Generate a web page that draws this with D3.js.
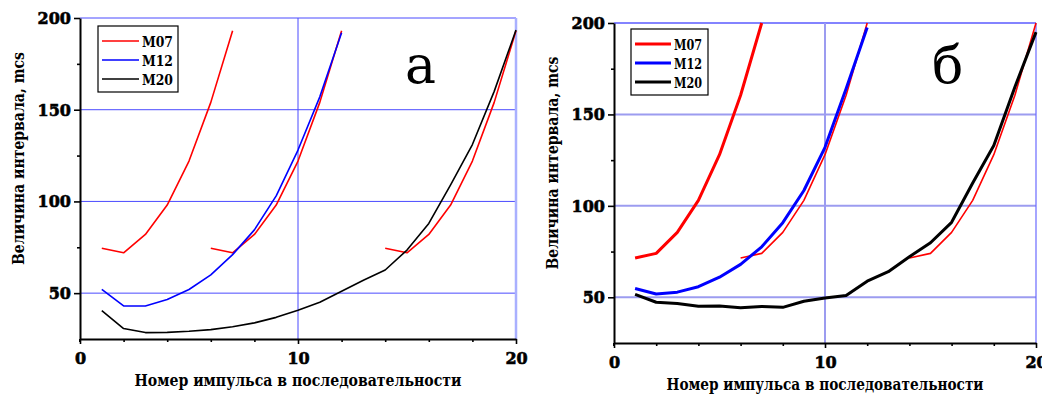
<!DOCTYPE html>
<html><head><meta charset="utf-8">
<script src="https://cdn.jsdelivr.net/npm/d3@7"></script>
<style>
html,body{margin:0;padding:0;background:#fff;}
svg{display:block;}
svg text{font-family:"DejaVu Serif","Liberation Serif","Times New Roman",serif !important;}
</style></head>
<body>
<svg id="chart" width="1042" height="394"></svg>
<script>
// ---- data ----
const seriesNames = ["M07", "M12", "M20"];
const seriesColors = ["#ff0000", "#0000ff", "#000000"];
const xTicks = [0, 10, 20];
const yTicks = [50, 100, 150, 200];
const xMinorTicks = [2, 4, 6, 8, 12, 14, 16, 18];
const yMinorTicks = [75, 125, 175];
const panelLetters = ["а", "б"];
const xTitle = "Номер импульса в последовательности";
const yTitle = "Величина интервала, mcs";

// panel а
const a_M07 = [74.5, 72, 82, 98, 122, 154, 193];
const a_M07_starts = [1, 6, 14];
const a_M12 = [52, 43, 43, 46.5, 52, 60, 71, 84.5, 103, 128, 157, 192];
const a_M20 = [40.5, 30.7, 28.5, 28.6, 29.2, 30.1, 31.7, 33.8, 36.8, 40.7, 45, 51, 57, 62.6, 73.5, 88, 109, 131, 160, 193.4];

// panel б
const b_M07 = [71.5, 74, 85.5, 103, 128, 160.5, 200];
const b_M07_starts = [1, 6, 14];
const b_M12 = [54.8, 51.8, 52.8, 55.8, 61, 68, 77.6, 90.8, 108.4, 132, 164, 197.5];
const b_M20 = [51.6, 47.3, 46.6, 45.1, 45.2, 44.3, 45, 44.5, 47.8, 49.6, 51, 58.8, 64, 72.2, 79.8, 91, 112.5, 133, 165, 195];

// ---- drawing ----
const svg = d3.select("#chart");

function drawPanel(p) {
  const x = d3.scaleLinear().domain([0, 20]).range([p.left, p.right]);
  const y = d3.scaleLinear().domain([25, 200]).range([p.bottom, p.top]);
  const g = svg.append("g");

  // grid
  const grid = g.append("g");
  yTicks.forEach(v => {
    const last = v === 200;
    grid.append("line").attr("x1", x(0)).attr("x2", x(20)).attr("y1", y(v)).attr("y2", y(v))
      .attr("stroke", last ? p.gridTopColor : p.gridColor).attr("stroke-width", last ? p.gridTopW : p.gridW);
  });
  [10, 20].forEach(v => {
    const last = v === 20;
    grid.append("line").attr("x1", x(v)).attr("x2", x(v)).attr("y1", y(200)).attr("y2", y(25))
      .attr("stroke", last ? p.gridEdgeColor : p.gridColor).attr("stroke-width", last ? p.gridEdgeW : p.gridW);
  });

  // series
  const line = d3.line().x(d => x(d[0])).y(d => y(d[1]));
  p.m07starts.forEach((s, i) => {
    const pts = p.m07.map((v, k) => [s + k, v]);
    g.append("path").attr("d", line(pts)).attr("fill", "none")
      .attr("stroke", seriesColors[0]).attr("stroke-width", i === 0 ? p.lw : p.lwThin)
      .attr("stroke-linejoin", "round");
  });
  [p.m12, p.m20].forEach((arr, i) => {
    const pts = arr.map((v, k) => [k + 1, v]);
    g.append("path").attr("d", line(pts)).attr("fill", "none")
      .attr("stroke", seriesColors[i + 1]).attr("stroke-width", p.lw)
      .attr("stroke-linejoin", "round");
  });

  // axes
  const xAx = g.append("g").attr("transform", `translate(0,${p.bottom})`)
    .call(d3.axisBottom(x).tickValues(xTicks).tickSize(5).tickSizeOuter(0).tickFormat(d3.format("d")));
  g.append("g").attr("transform", `translate(0,${p.bottom})`)
    .call(d3.axisBottom(x).tickValues(xMinorTicks).tickSize(3).tickSizeOuter(0).tickFormat(""))
    .select(".domain").remove();
  const yAx = g.append("g").attr("transform", `translate(${p.left},0)`)
    .call(d3.axisLeft(y).tickValues(yTicks).tickSize(6).tickSizeOuter(0).tickFormat(d3.format("d")));
  g.append("g").attr("transform", `translate(${p.left},0)`)
    .call(d3.axisLeft(y).tickValues(yMinorTicks).tickSize(3).tickSizeOuter(0).tickFormat(""))
    .select(".domain").remove();
  g.selectAll("g").attr("font-family", null);
  g.selectAll(".domain").attr("stroke", "#000").attr("stroke-width", 2);
  g.selectAll(".tick line").attr("stroke", "#000").attr("stroke-width", 1.6);
  xAx.selectAll(".tick text").style("font-size", "16px").style("font-weight", "bold")
    .attr("fill", "#000").attr("stroke", "#000").attr("stroke-width", 0.6)
    .attr("y", 14).attr("dy", "0.71em");
  yAx.selectAll(".tick text").style("font-size", "16px").style("font-weight", "bold")
    .attr("fill", "#000").attr("stroke", "#000").attr("stroke-width", 0.6)
    .attr("x", -9).attr("dy", "0.34em");
  g.append("line").attr("x1", p.left).attr("x2", p.left).attr("y1", p.bottom).attr("y2", p.bottom + 3)
    .attr("stroke", "#000").attr("stroke-width", 2);

  // titles
  g.append("text").attr("x", x(10)).attr("y", p.bottom + 47).attr("text-anchor", "middle")
    .style("font-size", "17px").style("font-weight", "bold").attr("textLength", p.xTitleLen)
    .attr("lengthAdjust", "spacingAndGlyphs").text(xTitle);
  g.append("text").attr("transform", `translate(${p.left - 56},${(p.top + p.bottom) / 2 - 20}) rotate(-90)`)
    .attr("text-anchor", "middle").style("font-size", "17px").style("font-weight", "bold")
    .attr("textLength", 213).attr("lengthAdjust", "spacingAndGlyphs").text(yTitle);

  // legend
  const L = p.legend;
  g.append("rect").attr("x", L.x).attr("y", L.y).attr("width", L.w).attr("height", L.h)
    .attr("fill", "#fff").attr("stroke", "#000").attr("stroke-width", 1.2);
  seriesNames.forEach((n, i) => {
    const cy = L.y + 15 + i * 19;
    g.append("line").attr("x1", L.x + 4).attr("x2", L.x + 4 + L.lineLen).attr("y1", cy).attr("y2", cy)
      .attr("stroke", seriesColors[i]).attr("stroke-width", p.lw);
    g.append("text").attr("x", L.x + L.lineLen + 7).attr("y", cy + 5.5).style("font-size", L.fs + "px")
      .style("font-weight", "bold").attr("textLength", L.tl).attr("lengthAdjust", "spacingAndGlyphs").text(n);
  });

  // panel letter
  g.append("text").attr("x", p.letterX).attr("y", 83).style("font-size", "52px").text(p.letter);
}

drawPanel({
  left: 80, right: 516, top: 18, bottom: 339,
  m07: a_M07, m07starts: a_M07_starts, m12: a_M12, m20: a_M20,
  lw: 1.6, lwThin: 1.6,
  gridColor: "#4b4bff", gridW: 1, gridTopColor: "#4b4bff", gridTopW: 1,
  gridEdgeColor: "#a9b0ff", gridEdgeW: 2.5,
  xTitleLen: 327,
  legend: {x: 98, y: 26, w: 80, h: 66, lineLen: 37, fs: 15, tl: 31},
  letter: panelLetters[0], letterX: 405
});
drawPanel({
  left: 614, right: 1036, top: 23, bottom: 343,
  m07: b_M07, m07starts: b_M07_starts, m12: b_M12, m20: b_M20,
  lw: 3, lwThin: 1.6,
  gridColor: "#9c9cf0", gridW: 2, gridTopColor: "#5a5aff", gridTopW: 1.5,
  gridEdgeColor: "#6a6aff", gridEdgeW: 1.2,
  xTitleLen: 317,
  legend: {x: 631, y: 29, w: 77, h: 66, lineLen: 36, fs: 15, tl: 28},
  letter: panelLetters[1], letterX: 932
});
</script>
</body></html>
